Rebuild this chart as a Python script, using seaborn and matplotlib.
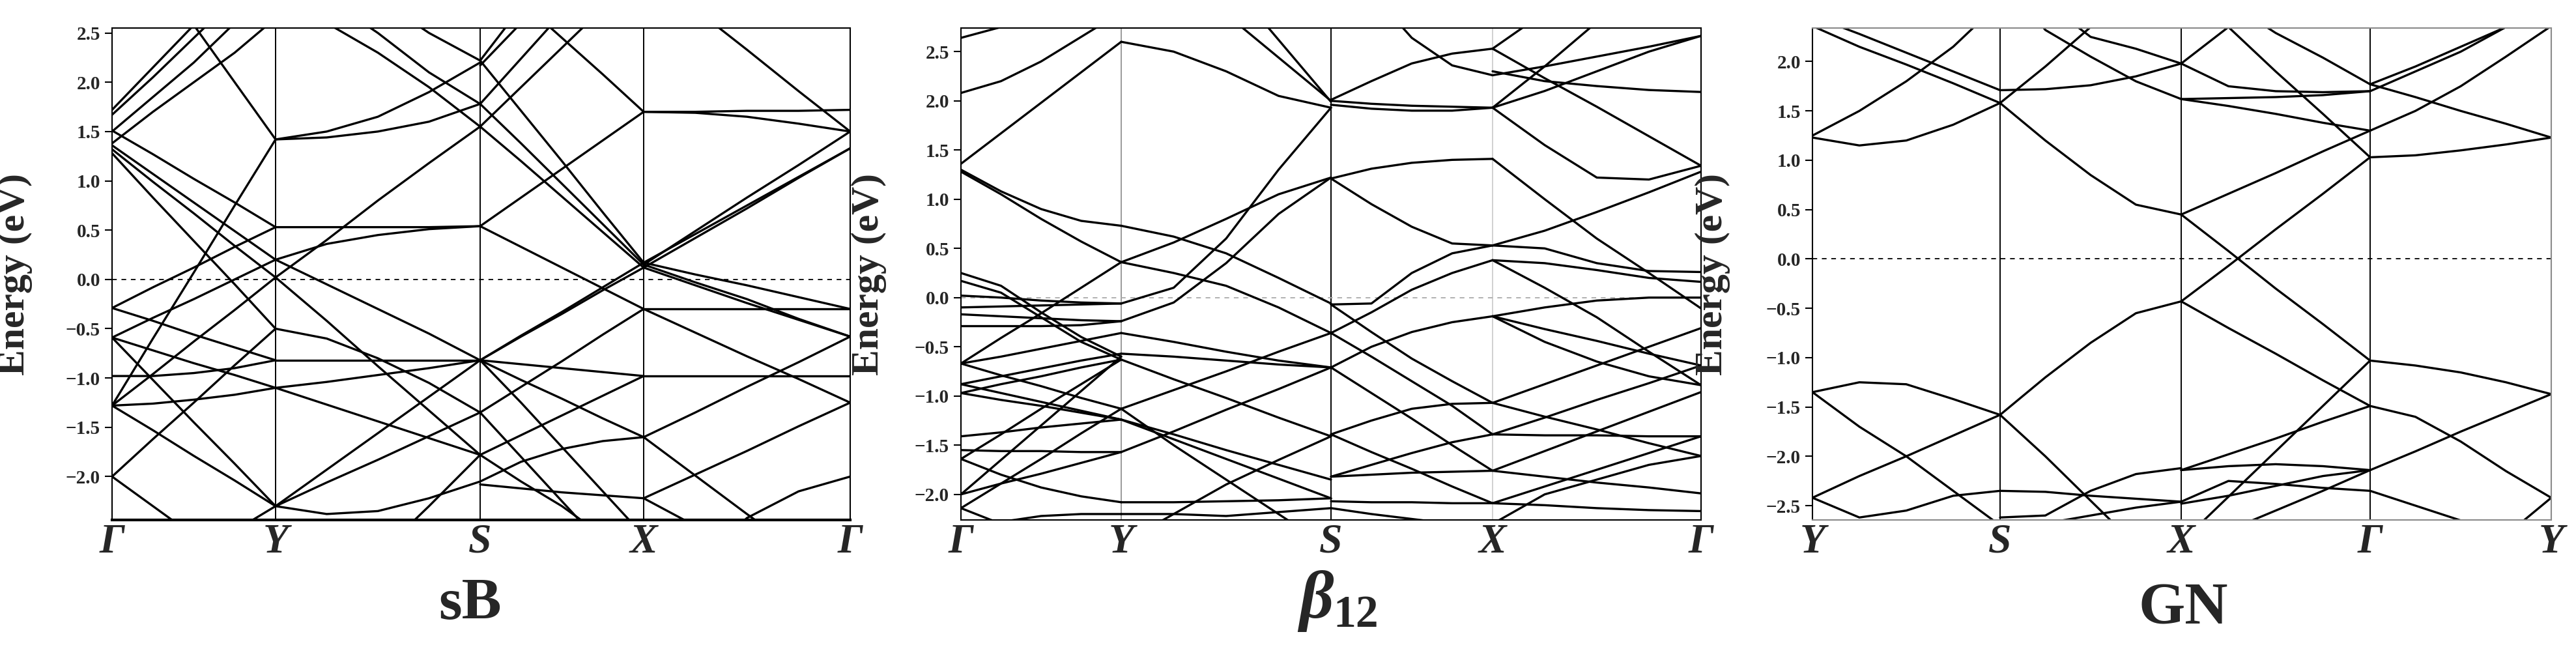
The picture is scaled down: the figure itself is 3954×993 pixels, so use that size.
import matplotlib
matplotlib.use("Agg")
import matplotlib.pyplot as plt
import seaborn as sns
import pandas as pd
import numpy as np

sns.set_theme(style="ticks")
plt.rcParams['font.family'] = ['Liberation Serif', 'DejaVu Serif']

# fractions along each k-path segment at which energies were read
FRACS = [0, 0.25, 0.5, 0.75, 1.0]

# ---------------- sB : G - Y - S - X - G ----------------
sb_kpts = [0, 0.251, 0.565, 0.816, 1.133]
sb_labels = ['Γ', 'Y', 'S', 'X', 'Γ']
sb_gy = [
    [1.72, 2.15, 2.58, 3.0, 3.4], [1.67, 2.05, 2.45, 2.85, 3.25],
    [1.50, 1.85, 2.2, 2.6, 3.0], [1.38, 1.7, 2.0, 2.3, 2.65],
    [3.7, 3.15, 2.58, 2.0, 1.42], [1.51, 1.27, 1.02, 0.78, 0.53],
    [1.36, 1.07, 0.78, 0.49, 0.20], [1.32, 0.99, 0.67, 0.34, 0.02],
    [1.28, 0.83, 0.39, -0.05, -0.50], [-1.28, -0.6, 0.07, 0.75, 1.42],
    [-0.29, -0.08, 0.12, 0.33, 0.53], [-0.59, -0.39, -0.20, 0.0, 0.20],
    [-1.28, -0.96, -0.63, -0.31, 0.02], [-0.29, -0.42, -0.56, -0.69, -0.82],
    [-0.98, -0.98, -0.95, -0.9, -0.82], [-0.59, -0.72, -0.85, -0.97, -1.10],
    [-1.28, -1.26, -1.22, -1.17, -1.10], [-2.0, -1.62, -1.25, -0.87, -0.50],
    [-0.59, -1.02, -1.45, -1.87, -2.30], [-1.28, -1.53, -1.79, -2.04, -2.30],
    [-2.0, -2.3, -2.6, -2.9, -3.2], [-3.4, -3.1, -2.85, -2.55, -2.30],
]
sb_ys = [
    [1.42, 1.44, 1.50, 1.60, 1.78], [1.42, 1.50, 1.65, 1.90, 2.20],
    [0.02, 0.40, 0.80, 1.18, 1.55], [0.53, 0.53, 0.53, 0.53, 0.54],
    [0.20, 0.36, 0.45, 0.51, 0.54], [3.6, 3.2, 2.85, 2.5, 2.22],
    [3.2, 2.85, 2.5, 2.1, 1.78], [3.0, 2.6, 2.3, 1.95, 1.55],
    [0.20, -0.05, -0.3, -0.55, -0.82], [0.02, -0.42, -0.88, -1.33, -1.78],
    [-0.82, -0.82, -0.82, -0.82, -0.82], [-0.5, -0.6, -0.8, -1.05, -1.35],
    [-1.10, -1.04, -0.97, -0.9, -0.82], [-1.10, -1.27, -1.44, -1.61, -1.78],
    [-2.30, -1.93, -1.56, -1.19, -0.82], [-2.30, -2.06, -1.83, -1.59, -1.35],
    [-2.30, -2.38, -2.35, -2.22, -2.05], [-3.8, -3.3, -2.8, -2.3, -1.78],
]
sb_sx = [
    [2.22, 2.76, 3.3, 3.8, 4.4], [2.17, 2.6, 3.05, 3.5, 3.9],
    [1.78, 2.24, 2.7, 3.15, 3.6], [1.55, 1.95, 2.35, 2.75, 3.15],
    [3.2, 2.82, 2.45, 2.08, 1.70], [0.54, 0.83, 1.12, 1.41, 1.70],
    [0.54, 0.33, 0.12, -0.09, -0.30], [2.22, 1.71, 1.2, 0.68, 0.17],
    [1.78, 1.38, 0.97, 0.56, 0.15], [1.55, 1.2, 0.84, 0.48, 0.12],
    [-0.82, -0.57, -0.33, -0.08, 0.17], [-0.82, -0.58, -0.35, -0.11, 0.12],
    [-0.82, -0.86, -0.9, -0.94, -0.98], [-0.82, -1.02, -1.21, -1.41, -1.60],
    [-1.35, -1.09, -0.83, -0.56, -0.30], [-2.05, -1.85, -1.72, -1.64, -1.60],
    [-2.08, -2.12, -2.16, -2.19, -2.22], [-1.35, -1.8, -2.25, -2.7, -3.15],
    [-0.82, -1.25, -1.7, -2.15, -2.6], [-1.78, -2.05, -2.3, -2.6, -2.9],
    [-1.78, -1.58, -1.38, -1.18, -0.98],
]
sb_xg = [
    [1.70, 1.70, 1.71, 1.71, 1.72], [1.70, 1.69, 1.65, 1.58, 1.50],
    [3.15, 2.74, 2.33, 1.91, 1.50], [0.17, 0.46, 0.75, 1.04, 1.33],
    [0.15, 0.49, 0.83, 1.16, 1.50], [0.12, 0.42, 0.72, 1.03, 1.33],
    [0.17, 0.05, -0.06, -0.18, -0.30], [0.15, -0.03, -0.2, -0.4, -0.58],
    [0.12, -0.06, -0.24, -0.41, -0.58], [-0.30, -0.30, -0.30, -0.30, -0.30],
    [-0.98, -0.98, -0.98, -0.98, -0.98], [-0.30, -0.54, -0.78, -1.01, -1.25],
    [-1.60, -1.35, -1.09, -0.84, -0.58], [-1.60, -1.99, -2.38, -2.76, -3.15],
    [-2.22, -1.98, -1.74, -1.49, -1.25], [-2.22, -2.5, -2.8, -3.1, -3.4],
    [-3.2, -2.9, -2.42, -2.15, -2.0],
]

# ---------------- beta12 : G - Y - S - X - G ----------------
b_kpts = [0, 0.246, 0.568, 0.816, 1.136]
b_labels = ['Γ', 'Y', 'S', 'X', 'Γ']
b_gy = [
    [2.64, 2.75, 2.9, 3.1, 3.3], [2.08, 2.2, 2.4, 2.65, 2.9],
    [1.36, 1.67, 1.98, 2.29, 2.6], [1.30, 1.08, 0.9, 0.78, 0.73],
    [1.28, 1.05, 0.80, 0.57, 0.36], [0.25, 0.12, -0.15, -0.40, -0.60],
    [0.17, 0.05, -0.2, -0.45, -0.63], [0.02, 0.0, -0.03, -0.05, -0.06],
    [-0.10, -0.09, -0.08, -0.07, -0.06], [-0.67, -0.41, -0.16, 0.10, 0.36],
    [-0.17, -0.19, -0.21, -0.23, -0.24], [-0.29, -0.29, -0.29, -0.28, -0.24],
    [-0.67, -0.6, -0.52, -0.44, -0.36], [-0.88, -0.8, -0.72, -0.64, -0.57],
    [-0.97, -0.88, -0.8, -0.71, -0.63], [-0.67, -0.79, -0.9, -1.02, -1.13],
    [-0.88, -0.97, -1.06, -1.15, -1.24], [-0.97, -1.04, -1.1, -1.17, -1.24],
    [-1.41, -1.37, -1.32, -1.28, -1.24], [-1.55, -1.56, -1.56, -1.57, -1.57],
    [-1.64, -1.39, -1.13, -0.88, -0.63], [-1.64, -1.8, -1.93, -2.02, -2.08],
    [-2.00, -1.65, -1.3, -0.95, -0.60], [-2.00, -1.89, -1.79, -1.68, -1.57],
    [-2.14, -1.89, -1.64, -1.38, -1.13], [-2.14, -2.3, -2.45, -2.6, -2.8],
    [-2.35, -2.28, -2.22, -2.2, -2.2],
]
b_ys = [
    [2.60, 2.5, 2.3, 2.05, 1.93], [3.76, 3.32, 2.88, 2.44, 2.0],
    [4.5, 3.9, 3.25, 2.62, 1.99], [0.73, 0.62, 0.45, 0.2, -0.06],
    [0.36, 0.56, 0.8, 1.05, 1.22], [0.36, 0.25, 0.12, -0.1, -0.36],
    [-0.06, 0.1, 0.6, 1.3, 1.93], [-0.24, -0.05, 0.35, 0.85, 1.22],
    [-0.36, -0.45, -0.55, -0.64, -0.71], [-0.57, -0.6, -0.64, -0.68, -0.71],
    [-0.63, -0.83, -1.02, -1.22, -1.41], [-1.13, -0.94, -0.75, -0.55, -0.36],
    [-1.24, -1.39, -1.55, -1.7, -1.85], [-1.57, -1.36, -1.14, -0.93, -0.71],
    [-1.24, -1.44, -1.64, -1.84, -2.04], [-2.08, -2.08, -2.07, -2.06, -2.04],
    [-2.2, -2.2, -2.22, -2.18, -2.14], [-2.5, -2.2, -1.9, -1.65, -1.41],
    [-1.13, -1.5, -1.85, -2.2, -2.55],
]
b_sx = [
    [2.01, 2.2, 2.38, 2.48, 2.53], [1.96, 1.92, 1.9, 1.9, 1.93],
    [2.0, 1.97, 1.95, 1.94, 1.93], [3.5, 3.1, 2.64, 2.36, 2.26],
    [1.21, 1.31, 1.37, 1.40, 1.41], [1.21, 0.95, 0.72, 0.55, 0.53],
    [-0.07, -0.06, 0.25, 0.45, 0.53], [-0.36, -0.15, 0.08, 0.25, 0.38],
    [-0.36, -0.6, -0.85, -1.1, -1.39], [-0.71, -0.5, -0.35, -0.25, -0.19],
    [-0.71, -0.97, -1.23, -1.5, -1.76], [-1.39, -1.25, -1.13, -1.08, -1.07],
    [-1.39, -1.57, -1.74, -1.92, -2.09], [-1.82, -1.7, -1.58, -1.47, -1.39],
    [-2.07, -2.08, -2.08, -2.09, -2.09], [-1.82, -1.8, -1.78, -1.77, -1.76],
    [-2.14, -2.2, -2.25, -2.3, -2.35], [-0.07, -0.35, -0.62, -0.85, -1.07],
]
b_xg = [
    [2.53, 2.9, 3.3, 3.7, 4.1], [2.53, 2.23, 1.94, 1.64, 1.34],
    [1.93, 2.35, 2.8, 3.2, 3.6], [2.26, 2.35, 2.45, 2.55, 2.66],
    [1.93, 2.1, 2.3, 2.5, 2.66], [1.93, 1.55, 1.22, 1.2, 1.34],
    [2.3, 2.2, 2.15, 2.11, 2.09], [1.41, 1.0, 0.6, 0.25, -0.11],
    [0.53, 0.68, 0.87, 1.07, 1.28], [0.53, 0.5, 0.35, 0.27, 0.26],
    [0.38, 0.35, 0.28, 0.2, 0.16], [-0.19, -0.1, -0.03, 0.0, 0.0],
    [-0.19, -0.32, -0.44, -0.57, -0.69], [-1.07, -0.88, -0.69, -0.5, -0.31],
    [-1.07, -1.21, -1.34, -1.48, -1.61], [-1.39, -1.22, -1.04, -0.87, -0.69],
    [-1.39, -1.40, -1.40, -1.41, -1.41], [-1.76, -1.56, -1.36, -1.16, -0.96],
    [-2.09, -1.92, -1.75, -1.58, -1.41], [-2.09, -2.11, -2.14, -2.16, -2.17],
    [-1.76, -1.82, -1.88, -1.93, -1.99], [-0.19, -0.45, -0.65, -0.8, -0.89],
    [0.38, 0.1, -0.2, -0.55, -0.89], [-2.3, -2.0, -1.85, -1.7, -1.61],
]

# ---------------- GN : Y - S - X - G - Y ----------------
g_kpts = [0, 0.288, 0.566, 0.856, 1.134]
g_labels = ['Y', 'S', 'X', 'Γ', 'Y']
g_ys = [
    [2.36, 2.15, 1.97, 1.78, 1.58], [2.46, 2.28, 2.09, 1.90, 1.71],
    [1.25, 1.5, 1.8, 2.15, 2.6], [1.23, 1.15, 1.2, 1.36, 1.58],
    [-1.35, -1.25, -1.27, -1.42, -1.58], [-1.35, -1.7, -2.0, -2.35, -2.7],
    [-2.42, -2.2, -2.0, -1.79, -1.58], [-2.42, -2.62, -2.55, -2.4, -2.35],
]
g_sx = [
    [2.9, 2.32, 2.05, 1.8, 1.62], [1.58, 1.95, 2.35, 2.7, 3.1],
    [1.71, 1.72, 1.76, 1.85, 1.98], [2.9, 2.6, 2.25, 2.13, 1.98],
    [1.58, 1.2, 0.85, 0.55, 0.45], [-1.58, -1.2, -0.85, -0.55, -0.43],
    [-1.58, -2.0, -2.45, -2.9, -3.3], [-2.35, -2.36, -2.4, -2.43, -2.46],
    [-2.62, -2.6, -2.35, -2.18, -2.12], [-2.75, -2.68, -2.6, -2.52, -2.46],
]
g_xg = [
    [1.98, 2.35, 2.7, 3.05, 3.4], [1.98, 1.75, 1.7, 1.69, 1.7],
    [2.85, 2.35, 1.9, 1.47, 1.03], [3.0, 2.6, 2.29, 2.04, 1.77],
    [1.62, 1.63, 1.64, 1.66, 1.7], [1.62, 1.55, 1.47, 1.38, 1.3],
    [0.45, 0.66, 0.87, 1.09, 1.3], [0.45, 0.08, -0.3, -0.66, -1.03],
    [-0.43, -0.07, 0.3, 0.66, 1.03], [-0.43, -0.7, -0.96, -1.23, -1.49],
    [-2.14, -1.98, -1.82, -1.65, -1.49], [-2.87, -2.41, -1.95, -1.49, -1.03],
    [-2.14, -2.1, -2.08, -2.1, -2.14], [-2.48, -2.4, -2.3, -2.2, -2.14],
    [-2.46, -2.25, -2.28, -2.32, -2.35], [-2.9, -2.75, -2.55, -2.35, -2.14],
]
g_gy = [
    [1.77, 1.95, 2.15, 2.35, 2.55], [1.77, 1.64, 1.5, 1.37, 1.23],
    [1.7, 1.9, 2.1, 2.35, 2.6], [1.3, 1.5, 1.75, 2.05, 2.36],
    [1.03, 1.05, 1.1, 1.16, 1.23], [-1.03, -1.08, -1.15, -1.25, -1.37],
    [-1.49, -1.6, -1.85, -2.15, -2.42], [-2.14, -1.95, -1.75, -1.56, -1.37],
    [-2.35, -2.5, -2.65, -2.8, -2.95], [-3.9, -3.5, -3.15, -2.8, -2.42],
]


def to_frame(kpts, segments):
    rows = []
    uid = 0
    for i, seg in enumerate(segments):
        k0, k1 = kpts[i], kpts[i + 1]
        for band in seg:
            for f, e in zip(FRACS, band):
                rows.append((uid, k0 + f * (k1 - k0), e))
            uid += 1
    return pd.DataFrame(rows, columns=['band', 'k', 'E'])


panels = [
    dict(kpts=sb_kpts, labels=sb_labels, segs=[sb_gy, sb_ys, sb_sx, sb_xg],
         ylim=(-2.44, 2.55), yticks=np.arange(-2.0, 2.51, 0.5),
         left=172, right=1305, vcol=['black', 'black', 'black'],
         spine='black', zero='black', ylab_x=-0.108),
    dict(kpts=b_kpts, labels=b_labels, segs=[b_gy, b_ys, b_sx, b_xg],
         ylim=(-2.26, 2.74), yticks=np.arange(-2.0, 2.51, 0.5),
         left=1475, right=2611, vcol=['#9a9a9a', 'black', '#d0d0d0'],
         spine='black', zero='#aaaaaa', ylab_x=-0.100),
    dict(kpts=g_kpts, labels=g_labels, segs=[g_ys, g_sx, g_xg, g_gy],
         ylim=(-2.645, 2.34), yticks=np.arange(-2.5, 2.01, 0.5),
         left=2782, right=3916, vcol=['black', 'black', 'black'],
         spine='#8a8a8a', zero='black', ylab_x=-0.111),
]

W, H = 3954, 993
fig = plt.figure(figsize=(W / 100, H / 100), dpi=100)
top_px, bot_px = 43, 798

for p in panels:
    ax = fig.add_axes([p['left'] / W, 1 - bot_px / H,
                       (p['right'] - p['left']) / W, (bot_px - top_px) / H])
    df = to_frame(p['kpts'], p['segs'])
    sns.lineplot(data=df, x='k', y='E', units='band', estimator=None,
                 color='black', lw=2.4, ax=ax, legend=False)
    for kx, c in zip(p['kpts'][1:-1], p['vcol']):
        ax.axvline(kx, color=c, lw=1.4, zorder=0)
    ax.axhline(0, color=p['zero'], lw=1.3, ls=(0, (4, 4)), zorder=0)
    ax.set_xlim(p['kpts'][0], p['kpts'][-1])
    ax.set_ylim(*p['ylim'])
    ax.set_xticks(p['kpts'])
    ax.set_xticklabels(p['labels'], fontsize=46, fontstyle='italic',
                       fontweight='bold')
    ax.set_yticks(p['yticks'])
    ax.set_yticklabels([f"{v:.1f}".replace('-', '\u2212') for v in p['yticks']],
                       fontsize=21, fontweight='bold')
    ax.tick_params(axis='x', length=0, pad=4)
    ax.tick_params(axis='y', length=8, width=1.5, pad=5, direction='out',
                   color='black')
    ax.set_xlabel('')
    ax.set_ylabel('Energy (eV)', fontsize=43, fontweight='bold')
    ax.yaxis.set_label_coords(p['ylab_x'], 0.5)
    for s in ax.spines.values():
        s.set_color(p['spine'])
        s.set_linewidth(1.5)
    ax.spines['left'].set_color('black')

panels_ax = fig.axes
panels_ax[0].spines['bottom'].set_linewidth(3)

fig.text(722 / W, 1 - 950 / H, 'sB', ha='center', va='baseline',
         fontsize=66, fontweight='bold')
fig.text(2020 / W, 1 - 948 / H, 'β', ha='center', va='baseline',
         fontsize=74, fontweight='bold', fontstyle='italic')
fig.text(2046 / W, 1 - 962 / H, '12', ha='left', va='baseline',
         fontsize=50, fontweight='bold')
fig.text(3351 / W, 1 - 957 / H, 'GN', ha='center', va='baseline',
         fontsize=66, fontweight='bold')

fig.savefig('out.png', dpi=100, facecolor='white')
